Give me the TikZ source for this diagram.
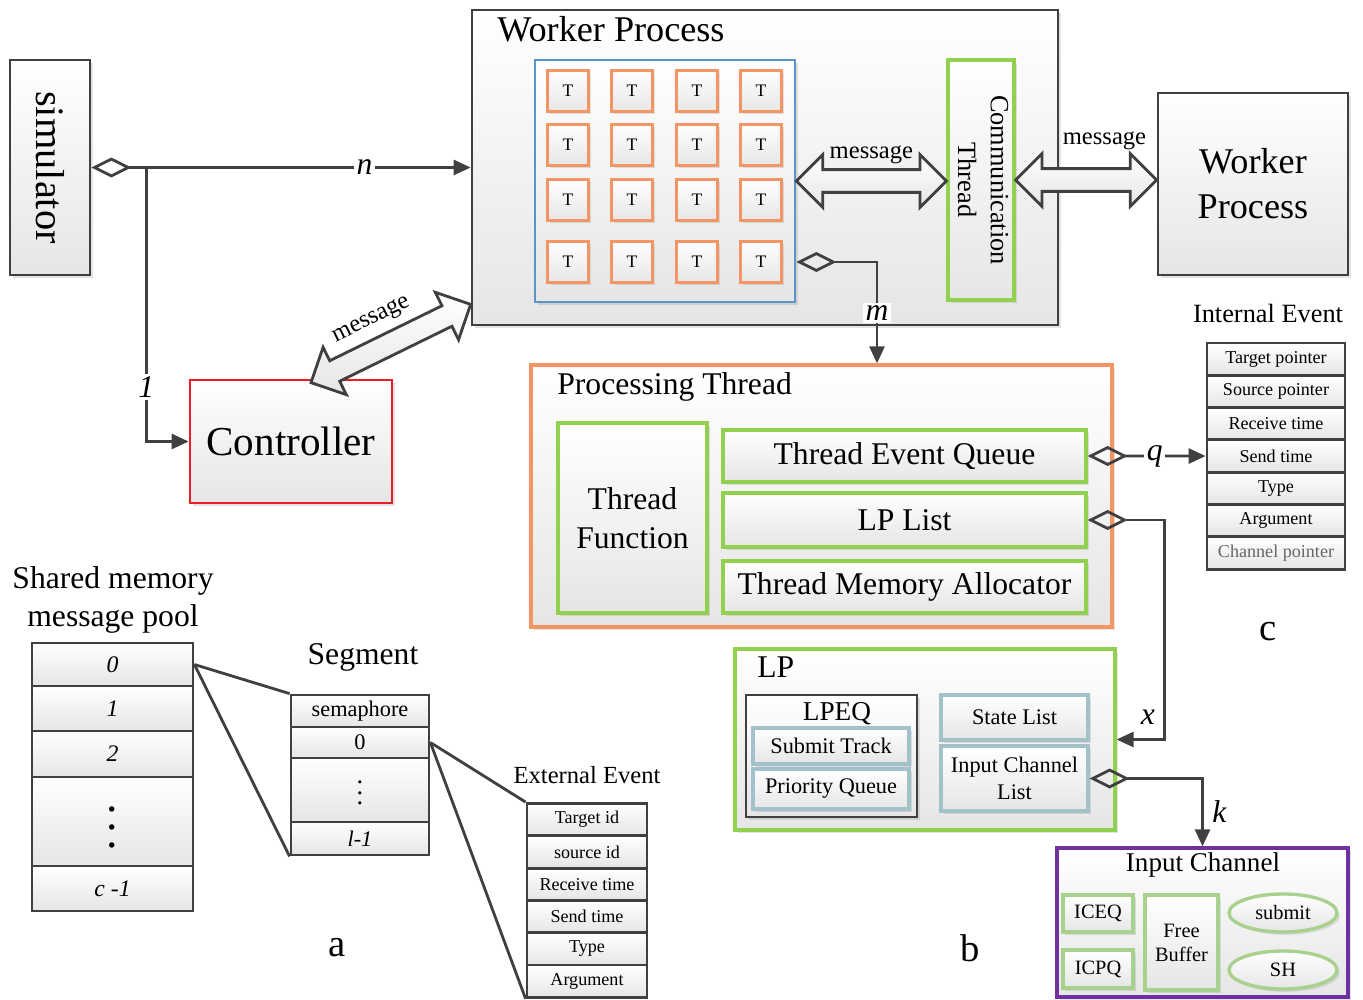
\documentclass[tikz,border=0pt]{standalone}
\usepackage{fontspec}
\setmainfont{Liberation Serif}
\usepackage{graphicx}
\definecolor{dgray}{RGB}{64,64,64}
\definecolor{tblue}{RGB}{91,148,205}
\definecolor{torange}{RGB}{244,150,100}
\definecolor{lgreen}{RGB}{146,208,80}
\definecolor{ctrlred}{RGB}{230,30,40}
\definecolor{bgray}{RGB}{163,193,201}
\definecolor{icpurple}{RGB}{112,48,160}
\definecolor{pgreen}{RGB}{169,209,142}
\usetikzlibrary{arrows.meta,positioning,calc,shapes.geometric,shapes.arrows,shadows}

\begin{document}
\begin{tikzpicture}[
  x=0.02cm, y=-0.02cm,
  box/.style={draw=dgray,line width=1.6pt,top color=white,bottom color=black!10,
              drop shadow={opacity=0.22,shadow xshift=1.6pt,shadow yshift=-1.6pt},
              inner sep=0pt,align=center},
  gbox/.style={box,draw=lgreen,line width=1.9pt},
  bgbox/.style={box,draw=bgray,line width=1.9pt,font=\fontsize{12.7}{15.3}\selectfont},
  pgbox/.style={box,draw=pgreen,line width=1.9pt,font=\fontsize{11.6}{13.6}\selectfont},
  tbox/.style={box,draw=torange,line width=1.9pt,minimum width=0.82cm,minimum height=0.82cm,
               font=\fontsize{10}{12}\selectfont},
  cell/.style={draw=dgray,line width=1.6pt,top color=white,bottom color=black!10,inner sep=0pt},
  title/.style={anchor=west,inner sep=0pt},
  lbl/.style={font=\itshape\fontsize{18}{22}\selectfont,fill=white,inner sep=1.5pt},
  msg/.style={font=\fontsize{14}{17}\selectfont,inner sep=1pt},
  conn/.style={draw=dgray,line width=1.6pt},
  arr/.style={conn,-{Triangle[length=0.34cm,width=0.3cm]}},
  aggr/.style={conn,{Diamond[open,length=0.8cm,width=0.4cm]}-{Triangle[length=0.34cm,width=0.3cm]}},
  dblarr/.style={double arrow,draw=dgray,line width=1.6pt,top color=white,bottom color=black!10,
                 inner xsep=0pt,inner ysep=0.2cm,double arrow head extend=0.3cm},
]
  \useasboundingbox (0,0) rectangle (1363,1000);

  % simulator
  \node[box,minimum width=1.6cm,minimum height=4.3cm] (sim) at (50,167.5)
    {\rotatebox{-90}{\fontsize{23}{28}\selectfont simulator}};

  % Worker Process with its threads
  \node[box,minimum width=11.72cm,minimum height=6.3cm] (wp) at (765,167.5) {};
  \node[title,font=\fontsize{20.6}{24}\selectfont] (wptitle) at (497,29) {Worker Process};
  \node[box,draw=tblue,minimum width=5.2cm,minimum height=4.84cm] (tgrid) at (665,181) {};
  \foreach \x [count=\c] in {568,632,697,761}
    \foreach \y [count=\r] in {91,145,200,262}
      \node[tbox] (t-\r-\c) at (\x,\y) {T};
  \node[gbox,minimum width=1.32cm,minimum height=4.8cm] (comm) at (981,180)
    {\rotatebox{-90}{\fontsize{15}{18.7}\selectfont\begin{tabular}{@{}c@{}}Communication\\Thread\end{tabular}}};

  % remote Worker Process
  \node[box,minimum width=3.8cm,minimum height=3.64cm,font=\fontsize{20.6}{25.5}\selectfont]
    (wp2) at (1253,184) {Worker\\Process};

  % Controller
  \node[box,draw=ctrlred,minimum width=4.04cm,minimum height=2.46cm,font=\fontsize{23.4}{28}\selectfont]
    (ctrl) at (291,441.5) {Controller};

  % Processing Thread
  \node[box,draw=torange,line width=1.9pt,minimum width=11.62cm,minimum height=5.24cm] (pt) at (821.5,496) {};
  \node[title,font=\fontsize{18}{22}\selectfont] (pttitle) at (557,387) {Processing Thread};
  \node[gbox,minimum width=2.98cm,minimum height=3.8cm,font=\fontsize{18}{22}\selectfont]
    (tfunc) at (632.5,518) {Thread\\Function};
  \node[gbox,minimum width=7.26cm,minimum height=1.04cm,font=\fontsize{18}{22}\selectfont]
    (teq) at (904.5,456) {Thread Event Queue};
  \node[gbox,minimum width=7.26cm,minimum height=1.08cm,font=\fontsize{18}{22}\selectfont]
    (lplist) at (904.5,520) {LP List};
  \node[gbox,minimum width=7.26cm,minimum height=1.04cm,font=\fontsize{18}{22}\selectfont]
    (tma) at (904.5,587) {Thread Memory Allocator};

  % Internal Event record
  \node[font=\fontsize{15}{18}\selectfont] (ietitle) at (1268,313) {Internal Event};
  \foreach \txt [count=\i] in {Target pointer,Source pointer,Receive time,Send time,Type,Argument}
    \node[cell,minimum width=2.76cm,minimum height=0.646cm,font=\fontsize{10.3}{12}\selectfont]
      (ie-\i) at (1276,{326.85+32.3*\i}) {\txt};
  \node[cell,minimum width=2.76cm,minimum height=0.646cm,font=\fontsize{10.3}{12}\selectfont,text=black!60]
    (ie-7) at (1276,552.95) {Channel pointer};
  \node[font=\fontsize{22}{26}\selectfont] (clbl) at (1268,632) {c};

  % Shared memory message pool
  \node[font=\fontsize{18}{21.5}\selectfont,align=center] (pooltitle) at (113,600) {Shared memory\\message pool};
  \node[cell,minimum width=3.22cm,minimum height=0.86cm,font=\itshape\fontsize{13.5}{16}\selectfont]
    (pool-0) at (112.5,664.5) {0};
  \node[cell,minimum width=3.22cm,minimum height=0.9cm,font=\itshape\fontsize{13.5}{16}\selectfont]
    (pool-1) at (112.5,708.5) {1};
  \node[cell,minimum width=3.22cm,minimum height=0.92cm,font=\itshape\fontsize{13.5}{16}\selectfont]
    (pool-2) at (112.5,754) {2};
  \node[cell,minimum width=3.22cm,minimum height=1.78cm] (pool-d) at (112.5,821.5)
    {\raisebox{9pt}{\scalebox{2.6}{\boldmath$\vdots$}}};
  \node[cell,minimum width=3.22cm,minimum height=0.9cm,font=\itshape\fontsize{13.5}{16}\selectfont]
    (pool-c) at (112.5,888.5) {c -1};

  % Segment
  \node[font=\fontsize{18}{22}\selectfont] (segtitle) at (363,657) {Segment};
  \node[cell,minimum width=2.76cm,minimum height=0.64cm,font=\fontsize{12.7}{15}\selectfont]
    (seg-s) at (360,711) {semaphore};
  \node[cell,minimum width=2.76cm,minimum height=0.62cm,font=\fontsize{12.7}{15}\selectfont]
    (seg-0) at (360,742.5) {0};
  \node[cell,minimum width=2.76cm,minimum height=1.28cm] (seg-d) at (360,790)
    {\raisebox{5.5pt}{\scalebox{1.5}{\boldmath$\vdots$}}};
  \node[cell,minimum width=2.76cm,minimum height=0.66cm,font=\itshape\fontsize{12.7}{15}\selectfont]
    (seg-l) at (360,838.5) {l-1};
  \node[font=\fontsize{22}{26}\selectfont] (albl) at (337,948) {a};

  % External Event record
  \node[font=\fontsize{14}{17}\selectfont] (exttitle) at (587,775) {External Event};
  \foreach \txt [count=\i] in {Target id,source id,Receive time,Send time,Type,Argument}
    \node[cell,minimum width=2.4cm,minimum height=0.646cm,font=\fontsize{10.3}{12}\selectfont]
      (ext-\i) at (587,{787.35+32.3*\i}) {\txt};

  % pool -> segment -> event
  \draw[conn] (pool-0.east) -- (seg-s.north west);
  \draw[conn] (pool-0.east) -- (seg-l.south west);
  \draw[conn] (seg-0.east) -- (ext-1.north west);
  \draw[conn] (seg-0.east) -- (ext-6.south west);

  % LP
  \node[gbox,minimum width=7.6cm,minimum height=3.62cm] (lp) at (925,739.5) {};
  \node[title,font=\fontsize{18}{22}\selectfont] (lptitle) at (757,667) {LP};
  \node[box,minimum width=3.42cm,minimum height=2.44cm] (lpeq) at (831.5,756) {};
  \node[font=\fontsize{15.5}{18}\selectfont] (lpeqtitle) at (837,714) {LPEQ};
  \node[bgbox,minimum width=3.12cm,minimum height=0.72cm] (subtr) at (831,746) {Submit Track};
  \node[bgbox,minimum width=3.12cm,minimum height=0.8cm] (prioq) at (831,789) {Priority Queue};
  \node[bgbox,minimum width=2.94cm,minimum height=0.9cm] (statel) at (1014.5,717.5) {State List};
  \node[bgbox,minimum width=2.94cm,minimum height=1.3cm] (icl) at (1014.5,778.5) {Input Channel\\List};
  \node[font=\fontsize{22}{26}\selectfont] (blbl) at (970,948) {b};

  % Input Channel
  \node[box,draw=icpurple,line width=1.9pt,minimum width=5.82cm,minimum height=2.98cm] (ic) at (1202.5,922.5) {};
  \node[font=\fontsize{15.4}{18}\selectfont] (ictitle) at (1203,865) {Input Channel};
  \node[pgbox,minimum width=1.4cm,minimum height=0.74cm] (iceq) at (1098,913.5) {ICEQ};
  \node[pgbox,minimum width=1.4cm,minimum height=0.76cm] (icpq) at (1098,969) {ICPQ};
  \node[pgbox,minimum width=1.46cm,minimum height=1.9cm] (fbuf) at (1181.5,942.5) {Free\\Buffer};
  \node[pgbox,ellipse,minimum width=2.16cm,minimum height=0.76cm] (submit) at (1283,913) {submit};
  \node[pgbox,ellipse,minimum width=2.16cm,minimum height=0.76cm] (sh) at (1283,970) {SH};

  % simulator links
  \draw[aggr] (sim.east) -- (wp.west) node[lbl,pos=0.72] {n};
  \draw[arr] ($(sim.east)+(55,0)$) |- (ctrl.west) node[lbl,pos=0.4] {1};

  % ownership links
  \draw[aggr] (tgrid.east |- t-4-4) -| ($(pt.north west)!0.595!(pt.north east)$) node[lbl,pos=0.75] {m};
  \draw[aggr] (teq.east) -- (ie-4.west) node[lbl,pos=0.57] {q};
  \draw[aggr] (lplist.east) -- ++(77,0) |- (lp.east)
    node[pos=0.45,left=0.05cm,font=\itshape\fontsize{18}{22}\selectfont] {x};
  \draw[aggr] (icl.east) -| (ic.north)
    node[pos=0.74,right=0.05cm,font=\itshape\fontsize{18}{22}\selectfont] {k};

  % message channels
  \coordinate (cm-a) at ($(ctrl.north)+(20,4)$);
  \coordinate (cm-b) at ($(wp.south west)+(0,-22)$);
  \path let \p1=($(tgrid.east -| comm.west)-(tgrid.east)$), \n1={veclen(\x1,\y1)}, \n2={atan2(\y1,\x1)} in
    node[dblarr,minimum height=\n1,rotate=\n2] (msg-tc) at ($(tgrid.east)!0.5!(tgrid.east -| comm.west)$) {};
  \path let \p1=($(comm.east -| wp2.west)-(comm.east)$), \n1={veclen(\x1,\y1)}, \n2={atan2(\y1,\x1)} in
    node[dblarr,minimum height=\n1,rotate=\n2] (msg-cw) at ($(comm.east)!0.5!(comm.east -| wp2.west)$) {};
  \path let \p1=($(cm-b)-(cm-a)$), \n1={veclen(\x1,\y1)}, \n2={atan2(\y1,\x1)} in
    node[dblarr,minimum height=\n1,rotate=\n2] (msg-cp) at ($(cm-a)!0.5!(cm-b)$) {};
  \path (tgrid.east) -- (tgrid.east -| comm.west) node[msg,midway,above=0.3cm] {message};
  \path (comm.east) -- (comm.east -| wp2.west) node[msg,pos=0.63,above=0.56cm] {message};
  \path (cm-a) -- (cm-b) node[msg,pos=0.46,sloped,above=0.36cm] {message};
\end{tikzpicture}
\end{document}
